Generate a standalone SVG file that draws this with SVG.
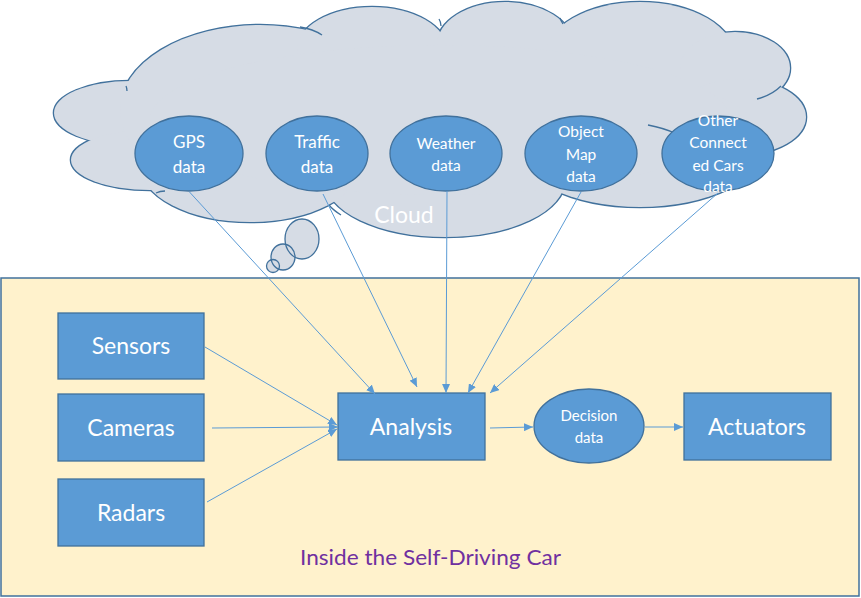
<svg xmlns="http://www.w3.org/2000/svg" width="861" height="598" viewBox="0 0 861 598">
<style>
.lobe{fill:#D6DCE5;stroke:#41719C;stroke-width:2.6}
.lobef{fill:#D6DCE5;stroke:none}
.hook{fill:none;stroke:#41719C;stroke-width:1.3}
.node{fill:#5B9BD5;stroke:#41719C;stroke-width:1.3}
.t{font-family:Lato,"Open Sans",sans-serif;fill:#FFFFFF;text-anchor:middle}
.con{stroke:#5B9BD5;stroke-width:1;fill:none;marker-end:url(#ah)}
</style>
<defs>
<marker id="ah" markerUnits="userSpaceOnUse" markerWidth="10" markerHeight="8" refX="9" refY="4" orient="auto">
<path d="M0,0 L9,4 L0,8 z" fill="#5B9BD5"/>
</marker>
</defs>
<rect width="861" height="598" fill="#FFFFFF"/>
<g id="cloud">
<ellipse class="lobe" cx="130" cy="113" rx="76" ry="32"/>
<ellipse class="lobe" cx="150" cy="160" rx="79" ry="30"/>
<ellipse class="lobe" cx="260" cy="110" rx="140" ry="85"/>
<ellipse class="lobe" cx="372" cy="50" rx="75" ry="43"/>
<ellipse class="lobe" cx="505" cy="45" rx="68" ry="43"/>
<ellipse class="lobe" cx="640" cy="57" rx="95" ry="55"/>
<ellipse class="lobe" cx="735" cy="68" rx="55" ry="36"/>
<ellipse class="lobe" cx="740" cy="117" rx="66" ry="38"/>
<ellipse class="lobe" cx="640" cy="145" rx="125" ry="62"/>
<ellipse class="lobe" cx="445" cy="180" rx="120" ry="57"/>
<ellipse class="lobe" cx="250" cy="165" rx="110" ry="57"/>
<ellipse class="lobef" cx="130" cy="113" rx="76" ry="32"/>
<ellipse class="lobef" cx="150" cy="160" rx="79" ry="30"/>
<ellipse class="lobef" cx="260" cy="110" rx="140" ry="85"/>
<ellipse class="lobef" cx="372" cy="50" rx="75" ry="43"/>
<ellipse class="lobef" cx="505" cy="45" rx="68" ry="43"/>
<ellipse class="lobef" cx="640" cy="57" rx="95" ry="55"/>
<ellipse class="lobef" cx="735" cy="68" rx="55" ry="36"/>
<ellipse class="lobef" cx="740" cy="117" rx="66" ry="38"/>
<ellipse class="lobef" cx="640" cy="145" rx="125" ry="62"/>
<ellipse class="lobef" cx="445" cy="180" rx="120" ry="57"/>
<ellipse class="lobef" cx="250" cy="165" rx="110" ry="57"/>
<ellipse class="lobef" cx="440" cy="120" rx="290" ry="75"/>
<path class="hook" d="M300 27 Q313 29 322 35"/>
<path class="hook" d="M439 19 Q441 22 441 26"/>
<path class="hook" d="M560 18 Q561 21 563 24"/>
<path class="hook" d="M781 86 Q772 95 757 99"/>
<path class="hook" d="M648 125 Q664 128 677 134"/>
<path class="hook" d="M329 205 Q333 210 341 215"/>
<path class="hook" d="M156 193 Q160 191 165 191"/>
<path class="hook" d="M126 86 Q127 88 127 91"/>
<ellipse cx="302" cy="239" rx="17" ry="20" fill="#D6DCE5"/>
<ellipse cx="283" cy="257" rx="12" ry="13" fill="#D6DCE5"/>
<ellipse cx="273" cy="266" rx="6.5" ry="6.5" fill="#D6DCE5"/>
<ellipse cx="302" cy="239" rx="17" ry="20" class="hook"/>
<ellipse cx="283" cy="257" rx="12" ry="13" class="hook"/>
<ellipse cx="273" cy="266" rx="6.5" ry="6.5" class="hook"/>
<text x="404" y="223" class="t" font-size="23">Cloud</text>
</g>
<g id="car">
<rect x="1" y="278" width="858" height="318" fill="#FFF2CC" stroke="#41719C" stroke-width="1.5"/>
<text x="300" y="565" font-family="Lato,'Open Sans',sans-serif" font-size="22" fill="#7030A0" textLength="261" lengthAdjust="spacingAndGlyphs">Inside the Self-Driving Car</text>
</g>
<g id="gps"><ellipse class="node" cx="189" cy="153.5" rx="54" ry="37.5"/><text class="t" font-size="17" x="189" y="148">GPS</text><text class="t" font-size="17" x="189" y="173">data</text></g>
<g id="traffic"><ellipse class="node" cx="317" cy="153.5" rx="51" ry="37.5"/><text class="t" font-size="17" x="317" y="148">Traffic</text><text class="t" font-size="17" x="317" y="173">data</text></g>
<g id="weather"><ellipse class="node" cx="446" cy="153.5" rx="56" ry="37.5"/><text class="t" font-size="15.5" x="446" y="149">Weather</text><text class="t" font-size="15.5" x="446" y="171">data</text></g>
<g id="objectmap"><ellipse class="node" cx="581" cy="153.5" rx="56" ry="37.5"/><text class="t" font-size="15.5" x="581" y="137">Object</text><text class="t" font-size="15.5" x="581" y="160">Map</text><text class="t" font-size="15.5" x="581" y="182">data</text></g>
<g id="othercars"><ellipse class="node" cx="718" cy="153.5" rx="56" ry="37.5"/><text class="t" font-size="15.5" x="718" y="126">Other</text><text class="t" font-size="15.5" x="718" y="148">Connect</text><text class="t" font-size="15.5" x="718" y="171">ed Cars</text><text class="t" font-size="15.5" x="718" y="192">data</text></g>
<g id="sensors"><rect class="node" x="58" y="313" width="146" height="66"/><text class="t" font-size="23" x="131" y="354">Sensors</text></g>
<g id="cameras"><rect class="node" x="58" y="394" width="146" height="67"/><text class="t" font-size="23" x="131" y="436">Cameras</text></g>
<g id="radars"><rect class="node" x="58" y="479" width="146" height="67"/><text class="t" font-size="23" x="131" y="521">Radars</text></g>
<g id="analysis"><rect class="node" x="338" y="393" width="147" height="67"/><text class="t" font-size="23" x="411" y="435">Analysis</text></g>
<g id="decision"><ellipse class="node" cx="589" cy="426" rx="55" ry="37"/><text class="t" font-size="15" x="589" y="421">Decision</text><text class="t" font-size="15" x="589" y="443">data</text></g>
<g id="actuators"><rect class="node" x="684" y="393" width="147" height="67"/><text class="t" font-size="23" x="757" y="435">Actuators</text></g>
<g id="connectors">
<line class="con" x1="189.5" y1="192" x2="375" y2="394"/>
<line class="con" x1="323" y1="194" x2="417" y2="387"/>
<line class="con" x1="447" y1="191" x2="446" y2="393"/>
<line class="con" x1="581" y1="192" x2="468" y2="393"/>
<line class="con" x1="718" y1="193" x2="490" y2="393"/>
<line class="con" x1="205" y1="347" x2="337" y2="425"/>
<line class="con" x1="212" y1="428" x2="338" y2="427"/>
<line class="con" x1="207" y1="502" x2="337" y2="429"/>
<line class="con" x1="490" y1="428" x2="533" y2="427"/>
<line class="con" x1="645" y1="427" x2="683" y2="427"/>
</g>
</svg>
